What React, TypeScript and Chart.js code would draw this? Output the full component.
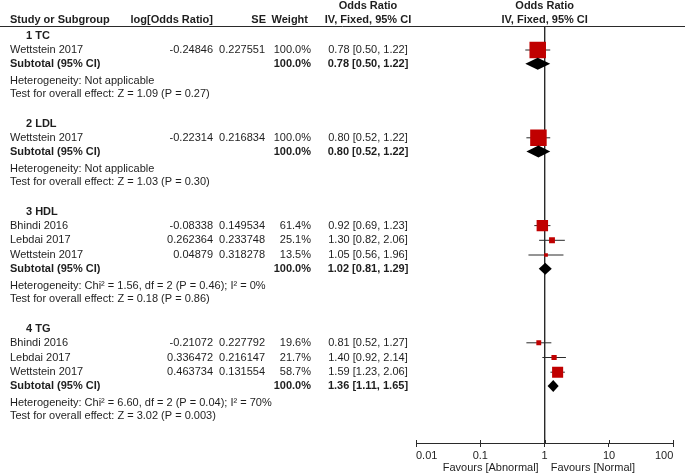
import React, { useEffect, useRef } from 'react';
import { Chart, registerables } from 'chart.js';

Chart.register(...registerables);

// ---------------- data ----------------
const groupNames = ['1 TC', '2 LDL', '3 HDL', '4 TG'];
const studyGroup = [0, 1, 2, 2, 2, 3, 3, 3];
const studyNames = ['Wettstein 2017', 'Wettstein 2017', 'Bhindi 2016', 'Lebdai 2017', 'Wettstein 2017', 'Bhindi 2016', 'Lebdai 2017', 'Wettstein 2017'];
const logOddsRatio = ['-0.24846', '-0.22314', '-0.08338', '0.262364', '0.04879', '-0.21072', '0.336472', '0.463734'];
const standardErrors = ['0.227551', '0.216834', '0.149534', '0.233748', '0.318278', '0.227792', '0.216147', '0.131554'];
const studyWeights = [100.0, 100.0, 61.4, 25.1, 13.5, 19.6, 21.7, 58.7];
const studyOR = [0.78, 0.80, 0.92, 1.30, 1.05, 0.81, 1.40, 1.59];
const studyLower = [0.50, 0.52, 0.69, 0.82, 0.56, 0.52, 0.92, 1.23];
const studyUpper = [1.22, 1.22, 1.23, 2.06, 1.96, 1.27, 2.14, 2.06];
const subtotalOR = [0.78, 0.80, 1.02, 1.36];
const subtotalLower = [0.50, 0.52, 0.81, 1.11];
const subtotalUpper = [1.22, 1.22, 1.29, 1.65];
const subtotalWeight = [100.0, 100.0, 100.0, 100.0];
const heterogeneityText = [
  'Heterogeneity: Not applicable',
  'Heterogeneity: Not applicable',
  'Heterogeneity: Chi\u00B2 = 1.56, df = 2 (P = 0.46); I\u00B2 = 0%',
  'Heterogeneity: Chi\u00B2 = 6.60, df = 2 (P = 0.04); I\u00B2 = 70%',
];
const overallEffectText = [
  'Test for overall effect: Z = 1.09 (P = 0.27)',
  'Test for overall effect: Z = 1.03 (P = 0.30)',
  'Test for overall effect: Z = 0.18 (P = 0.86)',
  'Test for overall effect: Z = 3.02 (P = 0.003)',
];
const xTickValues = [0.01, 0.1, 1, 10, 100];
const xTickLabels = ['0.01', '0.1', '1', '10', '100'];
const favoursLeft = 'Favours [Abnormal]';
const favoursRight = 'Favours [Normal]';

// ---------------- layout (styling) ----------------
const W = 685;
const H = 475;
const PLOT_LEFT = 416;
const PLOT_RIGHT = 675;
const PLOT_TOP = 27;
const PLOT_BOTTOM = 443;
const AXIS_H = 20;
const FONT_FAMILY = '"Liberation Sans", Arial, Helvetica, sans-serif';
const TEXT_COLOR = '#1e1e1e';
const LINE_COLOR = '#2a2a2a';
const SQUARE_COLOR = '#c00000';
const MAX_SQUARE = 16.5;
const DIAMOND_HALF = 6;

const COL_NAME = 10;
const COL_GROUP = 26;
const COL_LOG_R = 213;
const COL_SE_R = 265;
const COL_WT_R = 311;
const COL_OR_C = 368;

function buildLayout() {
  const header: number[] = [];
  const study: number[] = [];
  const subtotal: number[] = [];
  const het: number[] = [];
  const test: number[] = [];
  let y = 36;
  groupNames.forEach((_, gi) => {
    header.push(y);
    y += 14;
    let first = true;
    studyGroup.forEach((g, si) => {
      if (g !== gi) return;
      if (!first) y += 14.7;
      first = false;
      study[si] = y;
    });
    y += 13.8;
    subtotal.push(y);
    y += 17;
    het.push(y);
    y += 13;
    test.push(y);
    y += 30;
  });
  return { header, study, subtotal, het, test };
}

const rows = buildLayout();

const fmt = (v: number) => v.toFixed(2);
const ciText = (o: number, l: number, u: number) => `${fmt(o)} [${fmt(l)}, ${fmt(u)}]`;

const forestPlugin = {
  id: 'forestPlugin',
  afterDatasetsDraw(chart: any) {
    const ctx = chart.ctx;
    const xs = chart.scales.x;
    const ys = chart.scales.y;
    // diamonds for subtotals
    ctx.save();
    ctx.fillStyle = '#000000';
    subtotalOR.forEach((o, i) => {
      const yc = ys.getPixelForValue(rows.subtotal[i]);
      const xl = xs.getPixelForValue(subtotalLower[i]);
      const xo = xs.getPixelForValue(o);
      const xu = xs.getPixelForValue(subtotalUpper[i]);
      ctx.beginPath();
      ctx.moveTo(xl, yc);
      ctx.lineTo(xo, yc - DIAMOND_HALF);
      ctx.lineTo(xu, yc);
      ctx.lineTo(xo, yc + DIAMOND_HALF);
      ctx.closePath();
      ctx.fill();
    });
    ctx.restore();
  },
  afterDraw(chart: any) {
    const ctx = chart.ctx;
    const xs = chart.scales.x;
    const ys = chart.scales.y;
    const regular = `11px ${FONT_FAMILY}`;
    const bold = `bold 11px ${FONT_FAMILY}`;
    const text = (s: string, x: number, yv: number, align: CanvasTextAlign, font: string) => {
      ctx.font = font;
      ctx.textAlign = align;
      ctx.fillText(s, x, ys.getPixelForValue(yv));
    };
    ctx.save();
    ctx.fillStyle = TEXT_COLOR;
    ctx.textBaseline = 'middle';
    const xOne = xs.getPixelForValue(1);

    // header
    text('Odds Ratio', COL_OR_C, 6, 'center', bold);
    text('Odds Ratio', xOne, 6, 'center', bold);
    text('Study or Subgroup', COL_NAME, 20, 'left', bold);
    text('log[Odds Ratio]', COL_LOG_R, 20, 'right', bold);
    text('SE', COL_SE_R + 1, 20, 'right', bold);
    text('Weight', COL_WT_R - 3, 20, 'right', bold);
    text('IV, Fixed, 95% CI', COL_OR_C, 20, 'center', bold);
    text('IV, Fixed, 95% CI', xOne, 20, 'center', bold);

    // header rule
    ctx.strokeStyle = LINE_COLOR;
    ctx.lineWidth = 1;
    ctx.beginPath();
    ctx.moveTo(0, Math.round(ys.getPixelForValue(PLOT_TOP)) - 0.5);
    ctx.lineTo(W, Math.round(ys.getPixelForValue(PLOT_TOP)) - 0.5);
    ctx.stroke();

    groupNames.forEach((g, gi) => {
      text(g, COL_GROUP, rows.header[gi], 'left', bold);
      text('Subtotal (95% CI)', COL_NAME, rows.subtotal[gi], 'left', bold);
      text(`${subtotalWeight[gi].toFixed(1)}%`, COL_WT_R, rows.subtotal[gi], 'right', bold);
      text(ciText(subtotalOR[gi], subtotalLower[gi], subtotalUpper[gi]), COL_OR_C, rows.subtotal[gi], 'center', bold);
      text(heterogeneityText[gi], COL_NAME, rows.het[gi], 'left', regular);
      text(overallEffectText[gi], COL_NAME, rows.test[gi], 'left', regular);
    });
    studyNames.forEach((n, si) => {
      const yv = rows.study[si];
      text(n, COL_NAME, yv, 'left', regular);
      text(logOddsRatio[si], COL_LOG_R, yv, 'right', regular);
      text(standardErrors[si], COL_SE_R, yv, 'right', regular);
      text(`${studyWeights[si].toFixed(1)}%`, COL_WT_R, yv, 'right', regular);
      text(ciText(studyOR[si], studyLower[si], studyUpper[si]), COL_OR_C, yv, 'center', regular);
    });

    // upward half of axis tick marks
    const axisY = chart.chartArea.bottom;
    ctx.strokeStyle = LINE_COLOR;
    ctx.beginPath();
    xTickValues.forEach((v) => {
      const px = Math.round(xs.getPixelForValue(v)) + 0.5;
      ctx.moveTo(px, axisY - 3);
      ctx.lineTo(px, axisY);
    });
    ctx.stroke();

    // favours labels
    ctx.font = regular;
    ctx.textAlign = 'right';
    ctx.fillText(favoursLeft, xOne - 6, axisY + 25);
    ctx.textAlign = 'left';
    ctx.fillText(favoursRight, xOne + 6, axisY + 25);
    ctx.restore();
  },
};

export default function App() {
  const canvasRef = useRef<HTMLCanvasElement | null>(null);

  useEffect(() => {
    document.body.style.margin = '0';
    const canvas = canvasRef.current;
    if (!canvas) return;

    const squareRadius = studyWeights.map((w) => (MAX_SQUARE * Math.pow(w / 100, 0.75)) / Math.SQRT2);

    const whiskerSets = studyOR.map((_, si) => ({
      type: 'line' as const,
      data: [
        { x: studyLower[si], y: rows.study[si] },
        { x: studyUpper[si], y: rows.study[si] },
      ],
      borderColor: LINE_COLOR,
      borderWidth: 1,
      pointRadius: 0,
      order: 2,
    }));

    const chart = new Chart(canvas, {
      type: 'scatter',
      data: {
        datasets: [
          {
            type: 'scatter',
            data: studyOR.map((o, si) => ({ x: o, y: rows.study[si] })),
            pointStyle: 'rect',
            pointRadius: squareRadius,
            pointHoverRadius: squareRadius,
            backgroundColor: SQUARE_COLOR,
            borderColor: SQUARE_COLOR,
            borderWidth: 0,
            order: 0,
          },
          ...whiskerSets,
          {
            type: 'line',
            data: [
              { x: 1, y: PLOT_TOP },
              { x: 1, y: PLOT_BOTTOM },
            ],
            borderColor: LINE_COLOR,
            borderWidth: 1,
            pointRadius: 0,
            order: 3,
          },
        ] as any,
      },
      options: {
        responsive: false,
        animation: false,
        devicePixelRatio: 1,
        events: [],
        layout: {
          padding: {
            left: PLOT_LEFT,
            right: W - PLOT_RIGHT,
            top: PLOT_TOP,
            bottom: H - PLOT_BOTTOM - AXIS_H,
          },
        },
        plugins: {
          legend: { display: false },
          tooltip: { enabled: false },
          title: { display: false },
        },
        scales: {
          x: {
            type: 'logarithmic',
            min: 0.01,
            max: 100,
            afterBuildTicks: (scale: any) => {
              scale.ticks = xTickValues.map((v) => ({ value: v }));
            },
            afterFit: (scale: any) => {
              scale.height = AXIS_H;
            },
            ticks: {
              autoSkip: false,
              maxRotation: 0,
              align: 'inner',
              padding: 2,
              color: TEXT_COLOR,
              font: { family: FONT_FAMILY, size: 11 },
              callback: (_v: any, i: number) => xTickLabels[i],
            },
            grid: {
              display: true,
              drawOnChartArea: false,
              drawTicks: true,
              tickLength: 4,
              color: LINE_COLOR,
            },
            border: { display: true, color: LINE_COLOR, width: 1 },
          },
          y: {
            type: 'linear',
            display: false,
            min: PLOT_TOP,
            max: PLOT_BOTTOM,
            reverse: true,
          },
        },
      } as any,
      plugins: [forestPlugin],
    });

    return () => chart.destroy();
  }, []);

  return <canvas ref={canvasRef} width={W} height={H} style={{ display: 'block', width: W, height: H }} />;
}
